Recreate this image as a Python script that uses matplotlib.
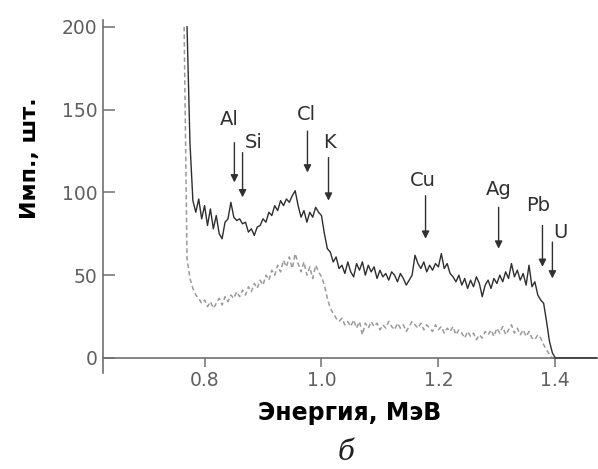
import numpy as np
import matplotlib
matplotlib.use("Agg")
import matplotlib.pyplot as plt

# energy grid of the spectrum, MeV
energy_solid = np.round(np.arange(0.770, 1.4701, 0.005), 3)
energy_dashed = np.round(np.arange(0.765, 1.4001, 0.005), 3)

# solid spectrum, counts (0.770 ... 1.470)
counts_solid = [
    200, 130, 95, 88, 96, 84, 92, 80, 90, 78,          # 0.770-0.815
    86, 75, 72, 82, 84, 94, 85, 83, 84, 81,            # 0.820-0.865
    82, 76, 78, 74, 79, 80, 84, 82, 88, 86,            # 0.870-0.915
    92, 89, 95, 92, 96, 94, 98, 101, 92, 85,           # 0.920-0.965
    89, 82, 88, 85, 91, 88, 86, 75, 66, 64,            # 0.970-1.015
    58, 61, 54, 56, 51, 58, 52, 49, 57, 53,            # 1.020-1.065
    58, 50, 56, 52, 55, 48, 53, 49, 51, 47,            # 1.070-1.115
    52, 50, 46, 51, 48, 44, 47, 50, 62, 57,            # 1.120-1.165
    54, 58, 52, 56, 53, 57, 55, 63, 54, 57,            # 1.170-1.215
    51, 49, 46, 50, 44, 48, 42, 47, 43, 49,            # 1.220-1.265
    45, 37, 44, 47, 42, 48, 45, 50, 46, 52,            # 1.270-1.315
    48, 57, 49, 53, 47, 51, 44, 56, 43, 46,            # 1.320-1.365
    38, 35, 33, 22, 10, 3, 0, 0, 0, 0,                 # 1.370-1.415
    0, 0, 0, 0, 0, 0, 0, 0, 0, 0, 0,                   # 1.420-1.470
]

# dashed spectrum, counts (0.765 ... 1.400)
counts_dashed = [
    200, 60, 48, 42, 38, 36, 33, 35, 31, 34,           # 0.765-0.810
    30, 33, 36, 32, 37, 34, 38, 36, 40, 37,            # 0.815-0.860
    41, 38, 43, 40, 45, 42, 47, 44, 50, 47,            # 0.865-0.910
    53, 50, 56, 52, 59, 55, 61, 54, 63, 57,            # 0.915-0.960
    52, 58, 50, 55, 48, 56, 52, 49, 44, 36,            # 0.965-1.010
    30, 27, 24, 22, 24, 20, 22, 19, 23, 18,            # 1.015-1.060
    22, 14, 21, 18, 22, 19, 21, 17, 20, 18,            # 1.065-1.110
    22, 19, 17, 21, 18, 20, 16, 19, 22, 20,            # 1.115-1.160
    18, 21, 17, 20, 18, 16, 20, 17, 19, 15,            # 1.165-1.210
    18, 16, 19, 14, 17, 15, 12, 16, 13, 15,            # 1.215-1.260
    11, 14, 12, 16, 14, 17, 13, 18, 15, 19,            # 1.265-1.310
    14, 17, 20, 15, 18, 14, 17, 13, 16, 12,            # 1.315-1.360
    11, 14, 12, 8, 5, 2, 0, 0,                         # 1.365-1.400
]

# element markers: label, arrow energy, arrow top/bottom, label position
elements = ["Al", "Si", "Cl", "K", "Cu", "Ag", "Pb", "U"]
arrow_e = [0.851, 0.865, 0.976, 1.012, 1.178, 1.303, 1.378, 1.395]
arrow_top = [130, 124, 137, 121, 98, 91, 80, 70]
arrow_tip = [106, 97, 112, 95, 72, 66, 55, 48]
label_e = [0.843, 0.884, 0.974, 1.014, 1.174, 1.303, 1.371, 1.408]
label_y = [144, 130, 147, 130, 107, 102, 92, 76]

x_ticks = [0.8, 1.0, 1.2, 1.4]
y_ticks = [0, 50, 100, 150, 200]

fig = plt.figure(figsize=(5.98, 4.69), dpi=100)
ax = fig.add_axes([0.172, 0.205, 0.828, 0.752])

ax.plot(energy_dashed, counts_dashed, color="#9a9a9a", lw=1.1,
        dashes=(3, 2), zorder=2)
ax.plot(energy_solid, counts_solid, color="#2e2e2e", lw=1.0, zorder=3)

for name, ex, y0, y1, lx, ly in zip(elements, arrow_e, arrow_top, arrow_tip,
                                     label_e, label_y):
    ax.annotate("", xy=(ex, y1), xytext=(ex, y0),
                arrowprops=dict(arrowstyle="-|>", color="#303030", lw=1.0,
                                mutation_scale=11, shrinkA=0, shrinkB=0))
    ax.text(lx, ly, name, ha="center", va="center", fontsize=14,
            color="#303030")

ax.set_xlim(0.626, 1.473)
ax.set_ylim(-9, 204)

ax.spines["top"].set_visible(False)
ax.spines["right"].set_visible(False)
ax.spines["bottom"].set_position(("data", 0))
for s in ("left", "bottom"):
    ax.spines[s].set_color("#707070")
    ax.spines[s].set_linewidth(1.2)

ax.set_xticks(x_ticks)
ax.set_xticklabels([f"{t:.1f}" for t in x_ticks])
ax.set_yticks(y_ticks)
ax.tick_params(axis="y", direction="in", length=8.5, width=1.1,
               color="#707070", labelcolor="#606060", labelsize=13.5, pad=4)
ax.tick_params(axis="x", direction="out", length=6.5, width=1.1,
               color="#707070", labelcolor="#606060", labelsize=13.5, pad=3)

fig.text(0.05, 0.663, "Имп., шт.", rotation=90, ha="center", va="center",
         fontsize=16, fontweight="bold", color="black")
fig.text(0.585, 0.119, "Энергия, МэВ", ha="center", va="center",
         fontsize=17, fontweight="bold", color="black")
fig.text(0.579, 0.036, "б", ha="center", va="center", fontsize=20,
         style="italic", family="DejaVu Serif", color="#202020")

fig.savefig("out.png", dpi=100)
